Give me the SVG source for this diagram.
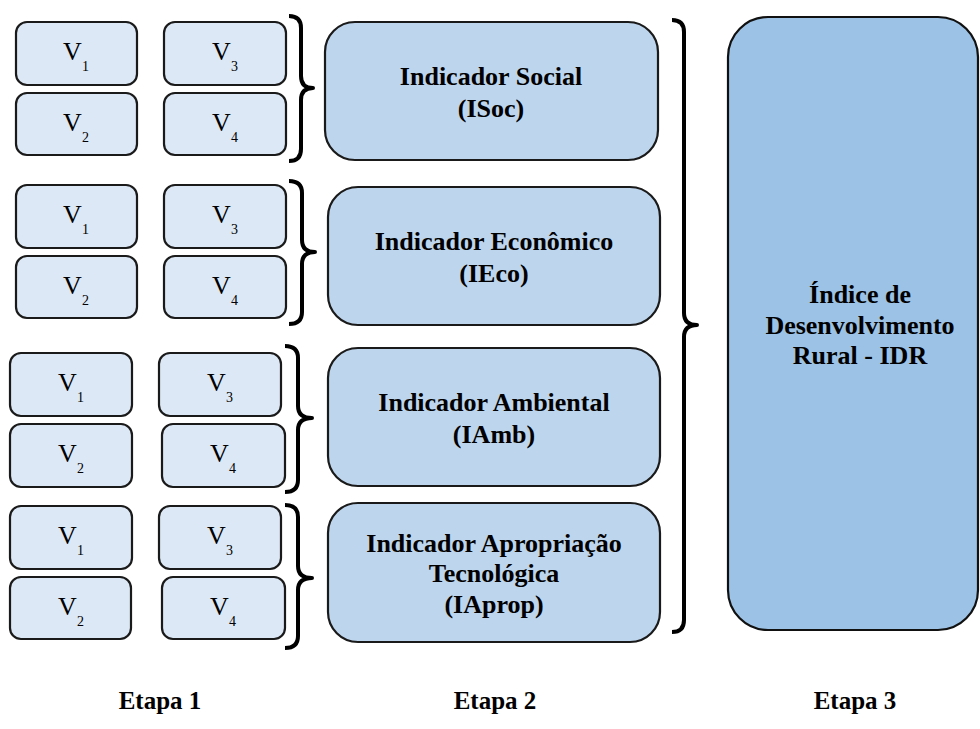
<svg xmlns="http://www.w3.org/2000/svg" width="980" height="729" viewBox="0 0 980 729">
<style>
.v{fill:#dce8f5;stroke:#1a1a1a;stroke-width:2.2}
.ind{fill:#bdd5ed;stroke:#1a1a1a;stroke-width:2.2}
.idr{fill:#9cc2e5;stroke:#111;stroke-width:2.2}
.vt{font-family:"Liberation Serif","Times New Roman",serif;font-size:26px;fill:#000;text-anchor:middle}
.sub{font-size:14px}
.bt{font-family:"Liberation Serif","Times New Roman",serif;font-size:26px;font-weight:bold;fill:#000;text-anchor:middle}
.et{font-family:"Liberation Serif","Times New Roman",serif;font-size:25px;font-weight:bold;fill:#000;text-anchor:middle}
.br{fill:none;stroke:#000;stroke-width:4;stroke-linecap:butt;stroke-linejoin:round}
</style>
<rect width="980" height="729" fill="#fff"/>
<!-- Group 1 -->
<g id="g1v1"><rect class="v" x="16" y="22" width="121" height="63" rx="11"/><text class="vt" x="76" y="60">V<tspan class="sub" dy="11">1</tspan></text></g>
<g id="g1v2"><rect class="v" x="16" y="93" width="121" height="62" rx="11"/><text class="vt" x="76" y="131">V<tspan class="sub" dy="11">2</tspan></text></g>
<g id="g1v3"><rect class="v" x="164" y="22" width="122" height="63" rx="11"/><text class="vt" x="225" y="60">V<tspan class="sub" dy="11">3</tspan></text></g>
<g id="g1v4"><rect class="v" x="164" y="93" width="122" height="62" rx="11"/><text class="vt" x="225" y="131">V<tspan class="sub" dy="11">4</tspan></text></g>
<!-- Group 2 -->
<g id="g2v1"><rect class="v" x="16" y="185" width="121" height="63" rx="11"/><text class="vt" x="76" y="223">V<tspan class="sub" dy="11">1</tspan></text></g>
<g id="g2v2"><rect class="v" x="16" y="256" width="121" height="62" rx="11"/><text class="vt" x="76" y="294">V<tspan class="sub" dy="11">2</tspan></text></g>
<g id="g2v3"><rect class="v" x="164" y="185" width="122" height="63" rx="11"/><text class="vt" x="225" y="223">V<tspan class="sub" dy="11">3</tspan></text></g>
<g id="g2v4"><rect class="v" x="164" y="256" width="122" height="62" rx="11"/><text class="vt" x="225" y="294">V<tspan class="sub" dy="11">4</tspan></text></g>
<!-- Group 3 -->
<g id="g3v1"><rect class="v" x="10" y="353" width="122" height="63" rx="11"/><text class="vt" x="71" y="391">V<tspan class="sub" dy="11">1</tspan></text></g>
<g id="g3v2"><rect class="v" x="10" y="424" width="122" height="63" rx="11"/><text class="vt" x="71" y="462">V<tspan class="sub" dy="11">2</tspan></text></g>
<g id="g3v3"><rect class="v" x="159" y="353" width="122" height="63" rx="11"/><text class="vt" x="220" y="391">V<tspan class="sub" dy="11">3</tspan></text></g>
<g id="g3v4"><rect class="v" x="162" y="424" width="123" height="63" rx="11"/><text class="vt" x="223" y="462">V<tspan class="sub" dy="11">4</tspan></text></g>
<!-- Group 4 -->
<g id="g4v1"><rect class="v" x="10" y="506" width="122" height="63" rx="11"/><text class="vt" x="71" y="544">V<tspan class="sub" dy="11">1</tspan></text></g>
<g id="g4v2"><rect class="v" x="10" y="577" width="121" height="62" rx="11"/><text class="vt" x="71" y="615">V<tspan class="sub" dy="11">2</tspan></text></g>
<g id="g4v3"><rect class="v" x="159" y="506" width="122" height="63" rx="11"/><text class="vt" x="220" y="544">V<tspan class="sub" dy="11">3</tspan></text></g>
<g id="g4v4"><rect class="v" x="162" y="577" width="123" height="62" rx="11"/><text class="vt" x="223" y="615">V<tspan class="sub" dy="11">4</tspan></text></g>
<!-- Indicators -->
<g id="isoc"><rect class="ind" x="325" y="22" width="333" height="138" rx="30"/><text class="bt" x="491" y="85">Indicador Social</text><text class="bt" x="491" y="117">(ISoc)</text></g>
<g id="ieco"><rect class="ind" x="328" y="187" width="332" height="138" rx="30"/><text class="bt" x="494" y="250">Indicador Econômico</text><text class="bt" x="494" y="282">(IEco)</text></g>
<g id="iamb"><rect class="ind" x="328" y="348" width="332" height="138" rx="30"/><text class="bt" x="494" y="411">Indicador Ambiental</text><text class="bt" x="494" y="443">(IAmb)</text></g>
<g id="iaprop"><rect class="ind" x="328" y="503" width="332" height="139" rx="30"/><text class="bt" x="494" y="552">Indicador Apropriação</text><text class="bt" x="494" y="582">Tecnológica</text><text class="bt" x="494" y="613">(IAprop)</text></g>
<!-- IDR -->
<g id="idr"><rect class="idr" x="728" y="17" width="250" height="613" rx="40"/><text class="bt" x="860" y="303">Índice de</text><text class="bt" x="860" y="334">Desenvolvimento</text><text class="bt" x="860" y="364">Rural - IDR</text></g>
<!-- Connectors (braces) -->
<g id="connectors">
<path class="br" d="M289,16 Q301,16 301,28 L301,76 Q301,88 313,88 Q301,88 301,100 L301,149 Q301,161 289,161"/>
<path class="br" d="M289,181 Q302,181 302,193 L302,240 Q302,252 315,252 Q302,252 302,264 L302,312 Q302,324 289,324"/>
<path class="br" d="M285,346 Q298,346 298,358 L298,406 Q298,418 312,418 Q298,418 298,430 L298,480 Q298,492 285,492"/>
<path class="br" d="M285,505 Q298,505 298,517 L298,566 Q298,578 312,578 Q298,578 298,590 L298,636 Q298,648 285,648"/>
<path class="br" d="M672,20 Q684,20 684,32 L684,313 Q684,325 697,325 Q684,325 684,337 L684,620 Q684,632 672,632"/>
</g>
<!-- Stage labels -->
<g id="labels">
<text class="et" x="160" y="709">Etapa 1</text>
<text class="et" x="495" y="709">Etapa 2</text>
<text class="et" x="855" y="709">Etapa 3</text>
</g>
</svg>
